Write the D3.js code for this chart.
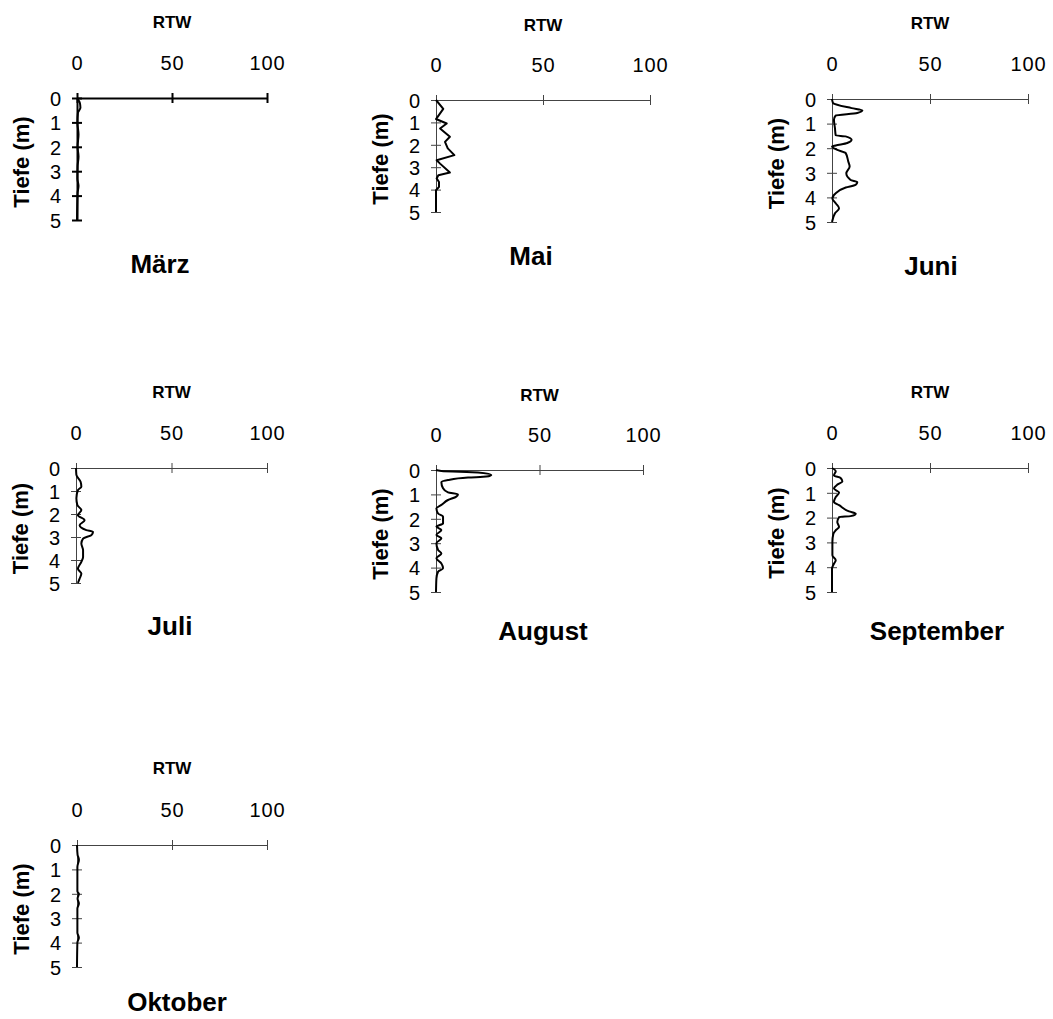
<!DOCTYPE html>
<html>
<head>
<meta charset="utf-8">
<script src="https://cdn.jsdelivr.net/npm/d3@7"></script>
<style>
  body { margin: 0; background: #fff; }
  text { font-family: "Liberation Sans", Arial, sans-serif; fill: #000; }
  .tick text { font-size: 20px; letter-spacing: 0.8px; }
  .rtw { font-size: 17px; font-weight: bold; }
  .month { font-size: 26px; font-weight: bold; }
  .tiefe { font-size: 22px; font-weight: bold; }
</style>
</head>
<body>
<script>
// values
var months = ["März", "Mai", "Juni", "Juli", "August", "September", "Oktober"];
var xTicks = [0, 50, 100];
var yTicks = [0, 1, 2, 3, 4, 5];

var maerzDepth = [0, 0.2, 0.4, 0.6, 1.0, 1.5, 2.0, 2.4, 2.8, 3.3, 3.6, 3.9, 5.0];
var maerzRTW   = [0, 1.5, 1.8, 0.5, 0.2, 0.8, 0.3, 0.8, 0.3, 0.2, 0.8, 0.3, 0];

var maiDepth = [0, 0.4, 0.85, 1.05, 1.27, 1.64, 1.87, 2.16, 2.46, 2.69, 2.84, 3.24, 3.36, 3.5, 3.66, 3.88, 4.03, 5.0];
var maiRTW   = [0, 3.4, 0, 5, 1.9, 6.5, 4.2, 5.5, 8.6, 0.3, 1.9, 6.5, 1.1, 0.3, 1.4, 1.4, 0, 0];

var juniDepth = [0, 0.16, 0.37, 0.46, 0.57, 0.67, 0.84, 1.18, 1.48, 1.52, 1.66, 1.79, 1.89, 1.93, 2.07, 2.2, 2.54, 2.74, 3.02, 3.29, 3.38, 3.49, 3.6, 3.83, 4.04, 4.24, 4.44, 4.65, 5.0];
var juniRTW   = [0, 0.5, 10, 15.5, 12.9, 1.9, 1.0, 1.5, 1.9, 6.9, 10, 7.8, 1.9, 0, 2.7, 7, 8.3, 9, 7.3, 9.5, 12.9, 12, 7, 1.9, 0.2, 1.9, 3.6, 1.5, 0];

var juliDepth = [0, 0.3, 0.6, 0.81, 0.96, 1.32, 1.61, 1.83, 2.05, 2.27, 2.49, 2.7, 2.78, 2.92, 3.07, 3.28, 3.58, 3.87, 4.08, 4.38, 4.59, 4.81, 5.0];
var juliRTW   = [0, 0.2, 2.4, 2.8, 1.0, 0.2, 0.7, 2.8, 1.0, 4.5, 1.9, 5.4, 8.9, 8, 3.7, 2.8, 3.7, 3.7, 2.8, 1.0, 2.8, 1.9, 1.0];

var augustDepth = [0, 0.04, 0.1, 0.2, 0.27, 0.31, 0.41, 0.5, 0.75, 0.92, 1.0, 1.09, 1.23, 1.43, 1.57, 1.78, 1.91, 2.19, 2.32, 2.46, 2.66, 2.8, 3.0, 3.28, 3.42, 3.62, 3.83, 4.03, 4.17, 4.44, 5.0];
var augustRTW   = [0, 2.6, 20.3, 26.7, 24.3, 15.5, 5.8, 2.6, 3.4, 5.8, 10.6, 9.8, 5.8, 2.6, 0.2, 1.0, 3.4, 3.4, 0.2, 2.6, 0.2, 2.6, 0.2, 1.0, 2.6, 0.2, 2.6, 3.4, 1.0, 0.2, 0];

var septemberDepth = [0, 0.13, 0.3, 0.4, 0.54, 0.67, 0.83, 0.99, 1.17, 1.37, 1.5, 1.75, 1.84, 1.94, 1.98, 2.18, 2.38, 2.51, 2.65, 2.98, 3.52, 3.72, 3.86, 4.06, 5.0];
var septemberRTW   = [0, 1.9, 1.0, 4.4, 5.3, 2.7, 1.0, 3.6, 1.9, 1.0, 3.6, 8.7, 12.1, 9.5, 3.6, 2.7, 3.6, 1.9, 0.7, 0.2, 0.2, 1.9, 1.0, 0, 0];

var oktoberDepth = [0, 0.4, 0.6, 0.9, 1.9, 2.0, 2.2, 2.4, 2.6, 3.6, 3.8, 4.0, 5.0];
var oktoberRTW   = [0, 0.3, 1.0, 0.2, 0.2, 1.0, 0.3, 1.0, 0.2, 0.2, 1.0, 0.2, 0];

var series = [
    [maerzDepth, maerzRTW],
    [maiDepth, maiRTW],
    [juniDepth, juniRTW],
    [juliDepth, juliRTW],
    [augustDepth, augustRTW],
    [septemberDepth, septemberRTW],
    [oktoberDepth, oktoberRTW]
];

// panel placement: left/right of x axis, top/bottom of y axis, title centers
var panels = [
    { x0: 77,  x1: 267,  y0: 98,  y1: 220, rtwY: 28,  titleX: 160, titleY: 273, axisW: 2 },
    { x0: 436, x1: 650,  y0: 100, y1: 212, rtwY: 31,  titleX: 531, titleY: 265, axisW: 1 },
    { x0: 832, x1: 1028, y0: 99,  y1: 222, rtwY: 29,  titleX: 931, titleY: 275, axisW: 1 },
    { x0: 76,  x1: 267,  y0: 468, y1: 583, rtwY: 398, titleX: 170, titleY: 635, axisW: 1 },
    { x0: 436, x1: 643,  y0: 470, y1: 592, rtwY: 401, titleX: 543, titleY: 640, axisW: 1 },
    { x0: 832, x1: 1028, y0: 468, y1: 592, rtwY: 398, titleX: 937, titleY: 640, axisW: 1 },
    { x0: 77,  x1: 267,  y0: 845, y1: 967, rtwY: 774, titleX: 177, titleY: 1011, axisW: 1 }
];

var svg = d3.select("body").append("svg")
    .attr("width", 1053)
    .attr("height", 1019)
    .style("display", "block");

panels.forEach(function(p, i) {
    var g = svg.append("g");
    var x = d3.scaleLinear().domain([0, 100]).range([p.x0, p.x1]);
    var y = d3.scaleLinear().domain([0, 5]).range([p.y0, p.y1]);

    var xAxis = g.append("g")
        .attr("transform", "translate(0," + p.y0 + ")")
        .call(d3.axisTop(x).tickValues(xTicks).tickSize(5).tickPadding(23).tickSizeOuter(0));
    var yAxis = g.append("g")
        .attr("transform", "translate(" + p.x0 + ",0)")
        .call(d3.axisLeft(y).tickValues(yTicks).tickFormat(d3.format("d"))
            .tickSize(5).tickPadding(10).tickSizeOuter(0));

    // ticks cross the axis line, like the original
    xAxis.selectAll(".tick line").attr("y1", 5).attr("y2", -5);
    yAxis.selectAll(".tick line").attr("x1", 5).attr("x2", -5);
    g.selectAll(".domain, .tick line")
        .attr("stroke", p.axisW > 1 ? "#000" : "#444")
        .attr("stroke-width", p.axisW);
    g.selectAll("g").attr("font-family", null).attr("font-size", null);
    yAxis.selectAll(".tick text").attr("dy", "0.36em");

    var depth = series[i][0], vals = series[i][1];
    var line = d3.line()
        .x(function(d, j) { return x(vals[j]); })
        .y(function(d) { return y(d); })
        .curve(i === 1 ? d3.curveLinear : d3.curveMonotoneY);

    g.append("path")
        .datum(depth)
        .attr("d", line)
        .attr("fill", "none")
        .attr("stroke", "#000")
        .attr("stroke-width", 2)
        .attr("stroke-linejoin", "round");

    g.append("text")
        .attr("class", "rtw")
        .attr("x", (p.x0 + p.x1) / 2)
        .attr("y", p.rtwY)
        .attr("text-anchor", "middle")
        .text("RTW");

    g.append("text")
        .attr("class", "tiefe")
        .attr("text-anchor", "middle")
        .attr("transform", "translate(" + (p.x0 - 48) + "," + ((p.y0 + p.y1) / 2 + 3) + ") rotate(-90)")
        .text("Tiefe (m)");

    g.append("text")
        .attr("class", "month")
        .attr("x", p.titleX)
        .attr("y", p.titleY)
        .attr("text-anchor", "middle")
        .text(months[i]);
});
</script>
</body>
</html>
